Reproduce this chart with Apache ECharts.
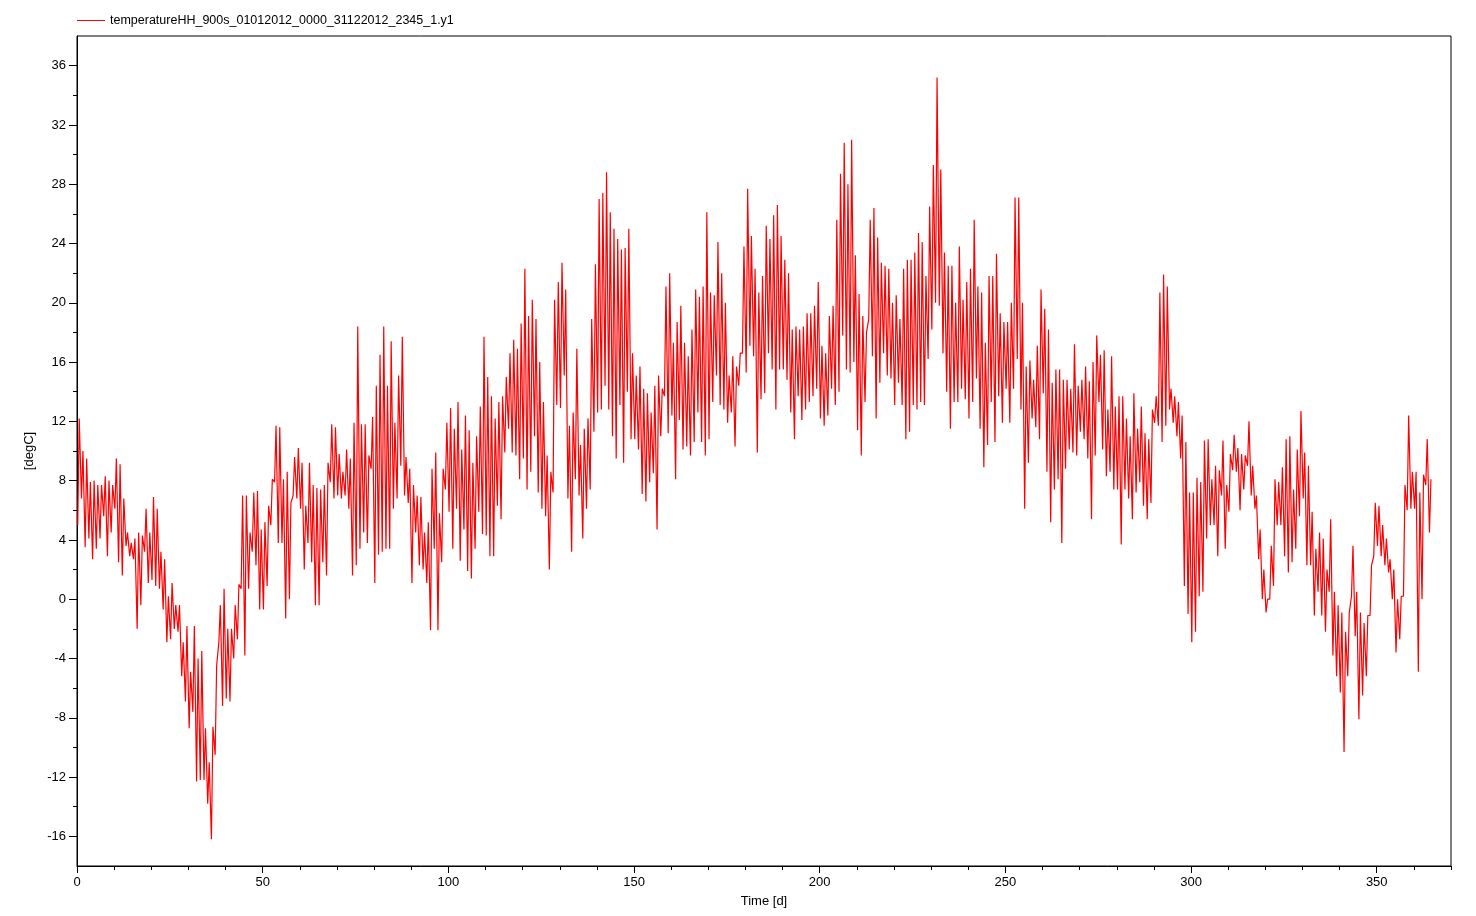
<!DOCTYPE html>
<html>
<head>
    <meta charset="utf-8">
    <title>temperatureHH</title>
    <script src="https://cdn.jsdelivr.net/npm/echarts@6/dist/echarts.min.js"></script>
    <style>
        html, body {
            margin: 0;
            padding: 0;
            background: #fff;
        }

        #chart {
            width: 1476px;
            height: 916px;
        }
    </style>
</head>
<body>
<div id="chart"></div>

<script type="text/javascript">

    var seriesName = 'temperatureHH_900s_01012012_0000_31122012_2345_1.y1';

    /* daily low / high [degC], day 0 .. 364 */
    var dayLow = [
        5.0, 6.8, 3.5, 4.1, 2.7, 3.4, 4.1, 5.6, 2.9, 4.5,
        6.1, 2.5, 1.6, 3.6, 2.9, 2.7, -2.0, -0.4, 3.2, 1.1,
        1.3, 0.9, 0.7, -0.7, -2.9, -2.7, -2.0, -2.2, -5.2, -6.9,
        -8.7, -7.6, -12.3, -12.2, -12.2, -13.8, -16.2, -10.5, -2.9, -7.2,
        -6.7, -6.9, -4.0, -2.7, 0.7, -3.8, 0.7, 3.2, 2.3, -0.7,
        -0.7, 0.9, 5.0, 7.9, 3.8, 3.8, -1.3, 0.0, 7.0, 6.8,
        6.1, 2.0, 3.8, 2.5, -0.4, -0.4, 2.5, 1.6, 7.9, 6.8,
        7.0, 6.8, 7.0, 6.1, 1.6, 2.3, 3.4, 4.5, 3.8, 8.8,
        1.1, 3.0, 3.2, 3.4, 3.4, 6.1, 6.8, 9.0, 7.0, 6.5,
        1.1, 4.5, 2.3, 2.0, 1.1, -2.1, 3.4, -2.1, 2.5, 7.4,
        5.9, 3.4, 6.1, 2.6, 4.7, 1.9, 1.4, 3.4, 5.9, 4.4,
        4.3, 2.9, 2.9, 6.3, 5.4, 9.9, 11.5, 9.9, 9.7, 8.1,
        9.5, 7.4, 8.6, 11.0, 7.2, 6.1, 5.6, 2.0, 7.2, 13.1,
        12.9, 15.1, 6.8, 3.2, 8.1, 7.0, 4.1, 6.1, 7.4, 11.3,
        12.6, 12.8, 14.4, 12.8, 11.0, 9.5, 13.1, 9.2, 14.0, 10.8,
        10.8, 10.1, 7.1, 6.6, 7.9, 8.5, 4.7, 11.0, 13.7, 11.2,
        12.4, 8.1, 12.1, 10.1, 10.3, 9.7, 10.6, 12.6, 10.6, 9.7,
        10.8, 13.3, 15.1, 13.1, 12.8, 11.9, 12.6, 10.3, 14.4, 16.6,
        15.3, 17.1, 16.4, 9.9, 13.5, 13.9, 16.6, 15.5, 12.8, 15.5,
        15.5, 14.8, 12.6, 10.8, 13.7, 12.1, 12.8, 13.3, 13.7, 14.2,
        12.2, 11.7, 12.4, 14.2, 13.1, 14.0, 17.8, 15.5, 15.3, 16.0,
        11.4, 9.7, 13.3, 18.9, 16.4, 12.2, 14.6, 16.6, 15.1, 14.9,
        13.1, 14.6, 13.1, 10.8, 11.3, 13.1, 12.8, 13.3, 13.1, 16.2,
        18.2, 20.0, 19.8, 16.6, 14.0, 11.5, 13.3, 13.3, 14.2, 13.5,
        12.2, 13.3, 14.9, 11.5, 8.9, 10.4, 13.3, 10.6, 13.7, 11.9,
        14.2, 11.9, 14.2, 16.2, 12.8, 6.1, 9.2, 12.2, 11.6, 10.8,
        13.9, 8.6, 5.2, 7.4, 8.1, 3.8, 8.8, 10.1, 9.9, 9.7,
        11.3, 10.8, 9.5, 5.4, 9.7, 13.3, 10.1, 8.3, 8.6, 7.4,
        7.4, 3.7, 7.4, 6.8, 5.4, 7.2, 7.9, 6.3, 5.4, 6.5,
        11.9, 11.7, 10.6, 11.7, 12.8, 11.9, 11.0, 9.5, 0.9, -1.0,
        -2.9, -2.2, 0.2, 0.5, 4.1, 5.0, 5.0, 2.9, 7.0, 3.4,
        5.9, 8.7, 8.6, 6.0, 7.4, 9.0, 7.0, 6.1, 2.7, 0.0,
        -0.9, 0.0, 0.9, 5.0, 5.0, 2.9, 1.8, 2.5, 3.4, 5.6,
        6.8, 2.3, 2.3, -1.1, 0.5, -1.1, -2.2, 0.5, -3.8, -5.2,
        -6.3, -10.3, -5.2, 0.2, -2.5, -8.1, -6.5, -5.2, -1.1, 2.9,
        3.6, 2.9, 2.3, 1.8, 0.0, -3.6, -2.7, 0.2, 6.0, 6.1,
        6.1, -4.9, 0.0, 7.7, 4.5
    ];

    var dayHigh = [
        12.2, 10.0, 9.5, 7.9, 8.0, 7.7, 7.7, 8.3, 8.0, 7.7,
        9.5, 9.1, 6.8, 4.5, 3.8, 4.1, 4.5, 4.3, 6.1, 4.5,
        6.9, 6.1, 3.2, 2.7, 0.2, 1.1, -0.4, -0.4, -2.9, -1.8,
        -4.9, -1.8, -4.0, -3.5, -8.7, -11.0, -8.6, -4.5, -0.4, 0.7,
        -2.0, -2.0, -0.4, 1.0, 7.0, 7.0, 4.5, 7.2, 7.3, 4.7,
        5.2, 6.3, 8.1, 11.7, 11.6, 8.1, 8.6, 6.5, 9.6, 10.2,
        9.2, 6.3, 9.2, 7.7, 7.5, 7.4, 7.7, 9.2, 11.8, 11.6,
        9.8, 8.6, 10.1, 9.5, 11.9, 18.4, 11.8, 11.8, 9.7, 12.3,
        14.4, 16.5, 18.4, 14.4, 17.4, 11.9, 15.1, 17.7, 9.6, 8.8,
        7.7, 7.0, 6.9, 4.5, 5.2, 8.8, 9.9, 5.8, 8.8, 11.9,
        12.9, 11.5, 13.3, 10.1, 12.4, 11.4, 9.2, 11.0, 13.0, 17.7,
        15.0, 13.7, 12.2, 13.3, 13.7, 15.0, 16.6, 17.5, 16.9, 18.6,
        22.3, 19.1, 20.2, 18.9, 16.0, 13.3, 9.7, 8.6, 20.2, 21.4,
        22.7, 20.9, 11.7, 12.6, 16.9, 10.4, 11.5, 12.2, 18.9, 22.6,
        27.0, 27.4, 28.8, 26.1, 25.0, 24.3, 23.6, 23.7, 25.0, 16.6,
        15.1, 15.7, 14.2, 13.9, 12.6, 14.4, 15.1, 14.2, 21.1, 22.0,
        17.3, 18.7, 19.8, 17.3, 16.4, 18.2, 20.9, 20.4, 21.1, 26.1,
        20.7, 20.5, 24.1, 22.0, 20.0, 15.1, 16.4, 15.7, 16.6, 23.8,
        27.7, 24.5, 22.3, 20.7, 21.8, 25.2, 24.3, 25.9, 26.6, 24.5,
        22.9, 22.0, 18.2, 18.4, 18.2, 18.4, 19.3, 19.3, 19.8, 21.4,
        17.1, 16.6, 19.1, 19.8, 25.6, 28.7, 30.8, 28.0, 31.0, 23.2,
        20.6, 19.1, 18.0, 25.6, 26.4, 24.4, 22.7, 22.5, 22.3, 20.0,
        20.5, 18.9, 22.3, 22.9, 22.9, 23.4, 24.7, 24.1, 21.8, 26.5,
        29.3, 35.2, 29.0, 23.4, 22.5, 22.5, 20.0, 23.8, 20.2, 21.4,
        22.3, 25.6, 21.1, 20.7, 17.3, 21.8, 21.8, 23.3, 19.3, 18.7,
        18.7, 20.0, 27.1, 27.1, 20.0, 15.7, 16.1, 14.8, 17.1, 20.9,
        19.6, 18.2, 14.6, 15.5, 15.5, 14.8, 14.8, 14.2, 17.2, 14.4,
        14.8, 15.7, 14.7, 16.0, 17.8, 16.5, 16.8, 12.8, 16.4, 13.0,
        13.7, 13.7, 12.2, 11.0, 13.9, 11.5, 13.0, 11.2, 10.8, 12.8,
        13.7, 20.7, 21.9, 21.1, 14.2, 13.7, 13.3, 12.4, 10.6, 7.2,
        7.2, 8.2, 7.9, 10.7, 10.8, 8.1, 9.0, 8.7, 10.7, 7.7,
        9.8, 11.1, 10.2, 9.8, 9.7, 12.0, 9.0, 7.0, 4.7, 2.0,
        0.0, 3.6, 8.1, 7.9, 8.9, 10.8, 11.0, 7.4, 10.1, 12.7,
        9.9, 9.0, 5.9, 3.4, 4.5, 4.1, 2.0, 5.4, 0.5, -0.4,
        -0.9, -2.2, -0.9, 3.6, 0.5, -0.9, -1.6, -1.1, 2.3, 6.5,
        6.3, 5.0, 4.1, 2.7, 2.0, 0.0, 0.2, 7.7, 12.4, 8.6,
        8.6, 7.2, 8.4, 10.8, 8.1
    ];

    /* axis ticks */
    var xLabelTicks = [0, 50, 100, 150, 200, 250, 300, 350];
    var xMinorTicks = [10, 20, 30, 40, 60, 70, 80, 90, 110, 120, 130, 140, 160, 170, 180, 190,
        210, 220, 230, 240, 260, 270, 280, 290, 310, 320, 330, 340, 360, 370];
    var yLabelTicks = [-16, -12, -8, -4, 0, 4, 8, 12, 16, 20, 24, 28, 32, 36];
    var yMinorTicks = [-14, -10, -6, -2, 2, 6, 10, 14, 18, 22, 26, 30, 34];

    // low early in the day, high in the afternoon
    var points = [];
    for (var d = 0; d < dayLow.length; d++) {
        points.push([d + 0.2, dayLow[d]]);
        points.push([d + 0.6, dayHigh[d]]);
    }

    var txt = {color: '#000', fontFamily: 'Liberation Sans', fontSize: 13};
    var black = {lineStyle: {color: '#000', width: 1}};

    var myChart = echarts.init(document.getElementById('chart'), null, {renderer: 'canvas'});

    myChart.setOption({
        animation: false,
        backgroundColor: '#fff',
        legend: {
            left: 72,
            top: 9,
            icon: 'rect',
            itemWidth: 28,
            itemHeight: 1,
            itemStyle: {color: '#ff0000', borderWidth: 0},
            lineStyle: {color: '#ff0000'},
            textStyle: {color: '#000', fontFamily: 'Liberation Sans', fontSize: 12.5},
            data: [seriesName]
        },
        grid: {
            left: 77,
            right: 25,
            top: 36,
            bottom: 50,
            show: true,
            borderColor: '#000',
            borderWidth: 1,
            backgroundColor: 'transparent'
        },
        xAxis: [{
            type: 'value',
            min: 0,
            max: 370,
            position: 'bottom',
            name: 'Time [d]',
            nameLocation: 'middle',
            nameGap: 29,
            nameTextStyle: txt,
            axisLine: {onZero: false, lineStyle: {color: '#000', width: 1}},
            splitLine: {show: false},
            axisTick: {show: true, length: 7, lineStyle: {color: '#000'}, customValues: xLabelTicks},
            axisLabel: Object.assign({margin: 10, customValues: xLabelTicks}, txt)
        }, {
            type: 'value',
            min: 0,
            max: 370,
            position: 'bottom',
            axisLine: {show: false, onZero: false},
            splitLine: {show: false},
            axisTick: {show: true, length: 4, lineStyle: {color: '#000'}, customValues: xMinorTicks},
            axisLabel: {show: false}
        }],
        yAxis: [{
            type: 'value',
            min: -18,
            max: 38,
            position: 'left',
            name: '[degC]',
            nameLocation: 'middle',
            nameGap: 30,
            nameTextStyle: txt,
            axisLine: Object.assign({show: true, onZero: false}, black),
            splitLine: {show: false},
            axisTick: {show: true, length: 8, lineStyle: {color: '#000'}, customValues: yLabelTicks},
            axisLabel: Object.assign({margin: 11, customValues: yLabelTicks}, txt)
        }, {
            type: 'value',
            min: -18,
            max: 38,
            position: 'left',
            offset: 0,
            axisLine: {show: false, onZero: false},
            splitLine: {show: false},
            axisTick: {show: true, length: 4, lineStyle: {color: '#000'}, customValues: yMinorTicks},
            axisLabel: {show: false}
        }],
        series: [{
            name: seriesName,
            type: 'line',
            xAxisIndex: 0,
            yAxisIndex: 0,
            symbol: 'none',
            showSymbol: false,
            lineStyle: {color: '#ff0000', width: 1.2},
            itemStyle: {color: '#ff0000'},
            data: points
        }]
    });

</script>
</body>
</html>
